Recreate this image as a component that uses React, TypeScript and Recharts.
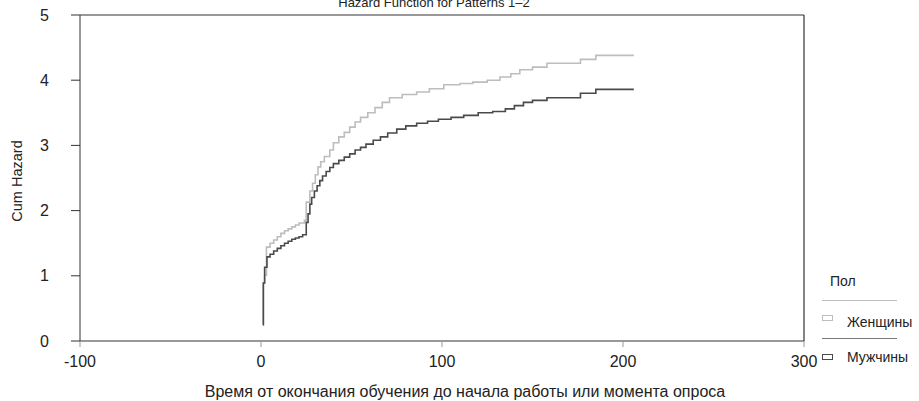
import { LineChart, Line, XAxis, YAxis, ReferenceLine, Label } from "recharts";

// time (x) and cumulative hazard (y)
const menTime = [
  1, 1.3, 2, 3.3, 5, 7, 9, 11, 13, 15, 17, 19, 21, 23, 25, 26, 27, 28, 29.5,
  31, 32.5, 34, 36, 38, 40, 43, 46, 49, 52, 55, 58, 62, 66, 70, 75, 80, 86,
  92, 98, 105, 112, 120, 128, 135, 140, 145, 150, 158, 176.5, 185, 206,
];
const menHazard = [
  0.25, 0.89, 1.13, 1.29, 1.33, 1.38, 1.42, 1.46, 1.5, 1.53, 1.56, 1.58, 1.6,
  1.63, 1.82, 1.95, 2.1, 2.2, 2.3, 2.38, 2.46, 2.53, 2.6, 2.66, 2.72, 2.77,
  2.82, 2.87, 2.93, 2.97, 3.02, 3.08, 3.13, 3.19, 3.25, 3.3, 3.34, 3.37, 3.4,
  3.43, 3.46, 3.5, 3.52, 3.56, 3.61, 3.66, 3.69, 3.73, 3.8, 3.86, 3.86,
];

const womenTime = [
  1, 1.3, 2, 3, 5, 7, 9, 11, 13, 15, 17, 19, 21, 24, 25, 27, 28.5, 30, 31.5,
  33, 35, 38, 40, 43, 46, 49, 52, 55, 59, 63, 67, 71, 78, 86, 93, 101, 110,
  117, 125, 132, 138, 143, 150, 158, 176.5, 185, 206,
];
const womenHazard = [
  0.25, 0.89, 1.01, 1.44, 1.5, 1.55, 1.6, 1.65, 1.69, 1.72, 1.75, 1.78, 1.81,
  1.85, 2.13, 2.3, 2.42, 2.55, 2.67, 2.75, 2.83, 2.93, 3.04, 3.13, 3.2, 3.28,
  3.36, 3.43, 3.5, 3.58, 3.66, 3.73, 3.78, 3.82, 3.87, 3.93, 3.95, 3.97, 4.0,
  4.05, 4.1, 4.16, 4.2, 4.26, 4.32, 4.38, 4.38,
];

const xTicks = [-100, 0, 100, 200, 300];
const yTicks = [0, 1, 2, 3, 4, 5];

const menData = menTime.map((t, i) => ({ t, h: menHazard[i] }));
const womenData = womenTime.map((t, i) => ({ t, h: womenHazard[i] }));

const FONT = '"Liberation Sans", Arial, sans-serif';
const AXIS = "#333";
const WOMEN = "#bdbdbd";
const MEN = "#4a4a4a";

export default function App() {
  return (
    <div
      style={{
        position: "absolute",
        left: 0,
        top: 0,
        width: 919,
        height: 401,
        background: "#fff",
        fontFamily: FONT,
        overflow: "hidden",
      }}
    >
      <div
        style={{
          position: "absolute",
          left: 334,
          width: 200,
          top: -4,
          fontSize: 13,
          lineHeight: "13px",
          textAlign: "center",
          whiteSpace: "nowrap",
          color: "#222",
        }}
      >
        Hazard Function for Patterns 1–2
      </div>

      <LineChart
        width={919}
        height={401}
        margin={{ top: 15, right: 115, bottom: 0, left: 0 }}
        style={{ fontFamily: FONT }}
      >
        <XAxis
          type="number"
          dataKey="t"
          domain={[-100, 300]}
          ticks={xTicks}
          allowDataOverflow
          height={60}
          tickSize={6}
          tickMargin={9}
          stroke={AXIS}
          tick={{ fill: "#222", fontSize: 16 }}
          tickLine={{ stroke: "#999" }}
        >
          <Label
            content={(props: any) => {
              const vb = props.viewBox;
              return (
                <text
                  x={vb.x + vb.width / 2 + 23}
                  y={vb.y + 56}
                  textAnchor="middle"
                  fontSize={16}
                  fill="#222"
                >
                  Время от окончания обучения до начала работы или момента опроса
                </text>
              );
            }}
          />
        </XAxis>
        <YAxis
          type="number"
          domain={[0, 5]}
          ticks={yTicks}
          width={80}
          tickSize={9}
          tickMargin={22}
          stroke={AXIS}
          tick={{ fill: "#222", fontSize: 16 }}
        >
          <Label
            content={(props: any) => {
              const vb = props.viewBox;
              const cy = vb.y + vb.height / 2 + 3;
              return (
                <text
                  x={17}
                  y={cy}
                  transform={`rotate(-90 17 ${cy})`}
                  textAnchor="middle"
                  dominantBaseline="central"
                  fontSize={14.5}
                  fill="#222"
                >
                  Cum Hazard
                </text>
              );
            }}
          />
        </YAxis>
        <ReferenceLine y={5} stroke={AXIS} strokeWidth={1.2} ifOverflow="extendDomain" />
        <ReferenceLine x={300} stroke={AXIS} strokeWidth={1.2} />
        <Line
          data={womenData}
          dataKey="h"
          type="stepAfter"
          stroke={WOMEN}
          strokeWidth={1.6}
          dot={false}
          isAnimationActive={false}
        />
        <Line
          data={menData}
          dataKey="h"
          type="stepAfter"
          stroke={MEN}
          strokeWidth={1.6}
          dot={false}
          isAnimationActive={false}
        />
      </LineChart>

      <div
        style={{
          position: "absolute",
          left: 815,
          top: 270,
          width: 104,
          color: "#222",
          fontSize: 14,
        }}
      >
        <div style={{ position: "absolute", left: 15, top: 3, lineHeight: "16px" }}>
          Пол
        </div>
        <div
          style={{
            position: "absolute",
            left: 7,
            top: 30,
            width: 75,
            borderTop: `1.5px solid ${WOMEN}`,
          }}
        />
        <div
          style={{
            position: "absolute",
            left: 7,
            top: 45,
            width: 9,
            height: 4,
            border: `1.5px solid ${WOMEN}`,
          }}
        />
        <div
          style={{
            position: "absolute",
            left: 32,
            top: 44,
            lineHeight: "16px",
            whiteSpace: "nowrap",
          }}
        >
          Женщины
        </div>
        <div
          style={{
            position: "absolute",
            left: 7,
            top: 68,
            width: 75,
            borderTop: `1.5px solid #777`,
          }}
        />
        <div
          style={{
            position: "absolute",
            left: 7,
            top: 84,
            width: 9,
            height: 4,
            border: `1.5px solid ${MEN}`,
          }}
        />
        <div
          style={{
            position: "absolute",
            left: 32,
            top: 79,
            lineHeight: "16px",
            whiteSpace: "nowrap",
          }}
        >
          Мужчины
        </div>
      </div>
    </div>
  );
}
